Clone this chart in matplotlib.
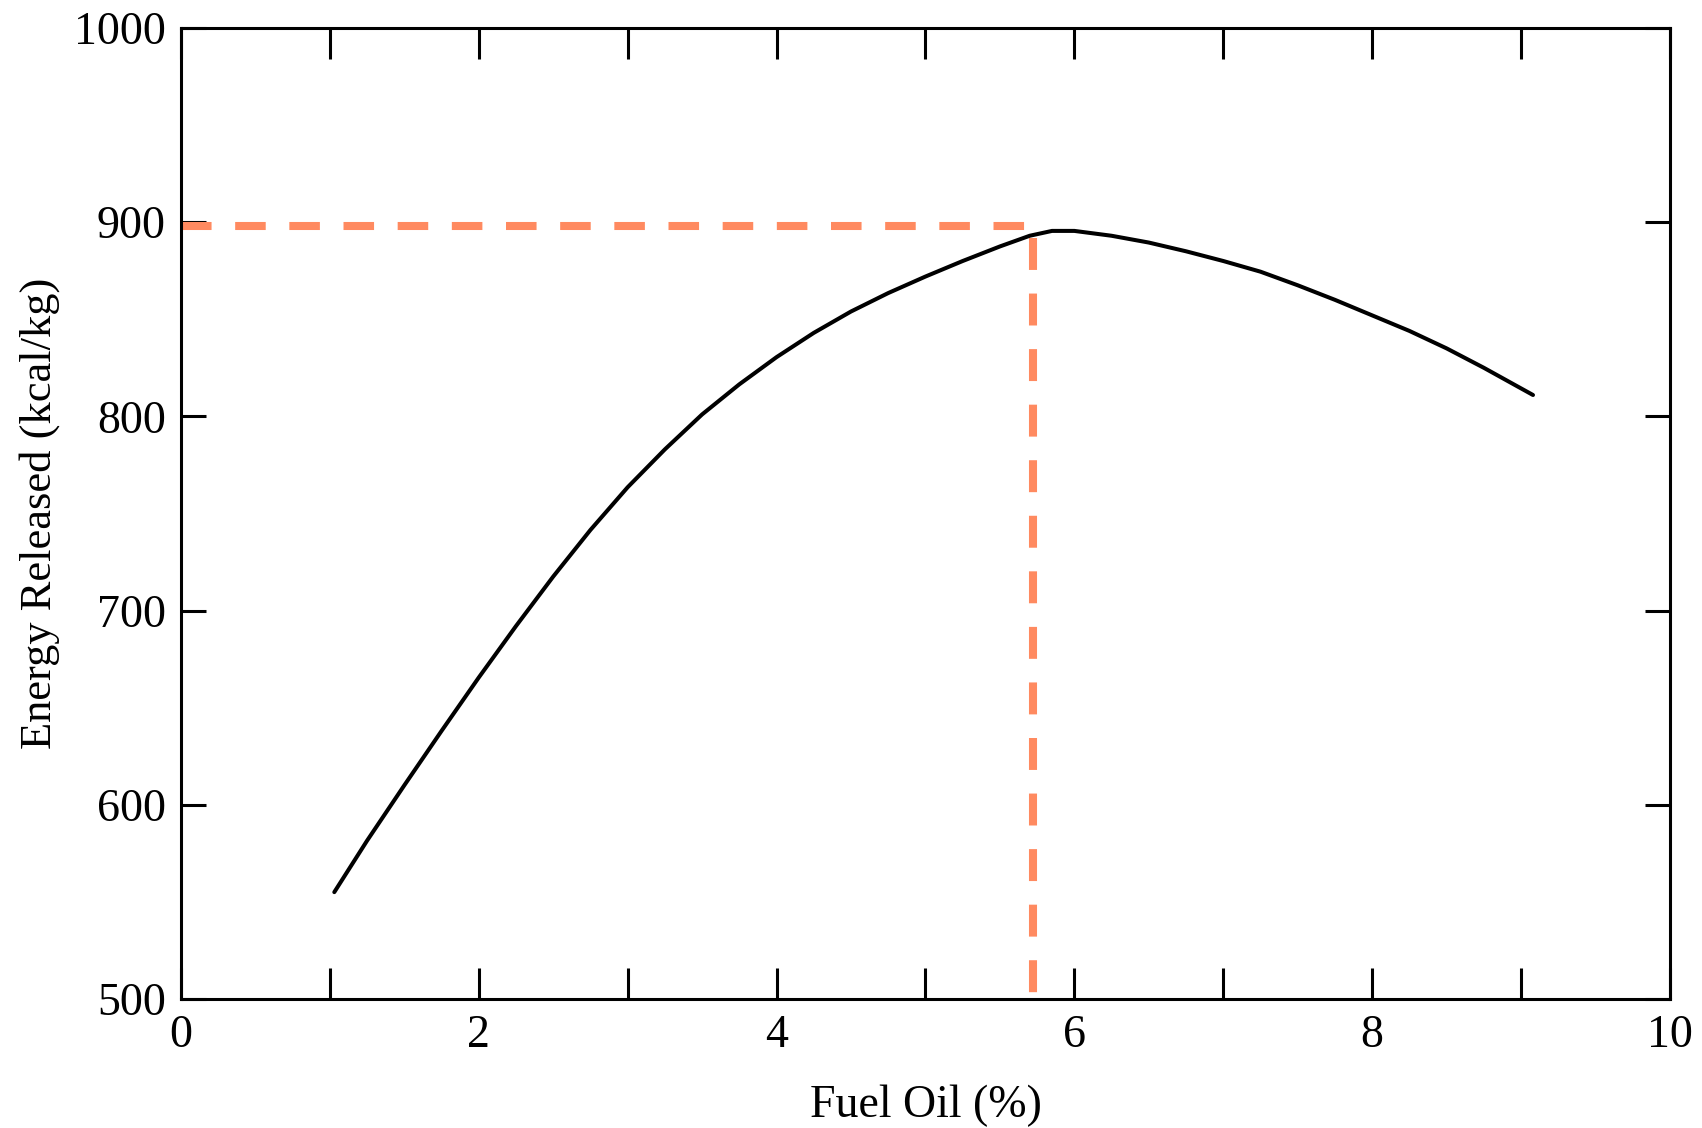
import numpy as np
from matplotlib import pyplot as plt

# curve
fuel_oil = [1.03, 1.25, 1.5, 1.75, 2.0, 2.25, 2.5, 2.75, 3.0, 3.25, 3.5, 3.75, 4.0, 4.25, 4.5, 4.75,
            5.0, 5.25, 5.5, 5.7, 5.85, 6.0, 6.25, 6.5, 6.75, 7.0, 7.25, 7.5, 7.75, 8.0, 8.25, 8.5,
            8.75, 9.08]
energy = [555, 581.5, 610, 638, 665.5, 692, 717.5, 741.5, 763.5, 783, 801, 816.5, 830.5, 843, 854, 863.5,
          872, 880, 887.5, 893, 895.5, 895.5, 893, 889.5, 885, 880, 874.5, 867.5, 860, 852, 844, 835,
          825, 811]

# optimum marked with dashed lines
opt_x = 5.72
opt_y = 898

x_ticks = [0, 2, 4, 6, 8, 10]
y_ticks = [500, 600, 700, 800, 900, 1000]


def draw():
    plt.rcParams['font.family'] = ['Liberation Serif', 'DejaVu Serif']
    plt.rcParams['lines.scale_dashes'] = False

    fig = plt.figure(figsize=(17.02, 11.28), dpi=100)
    ax = fig.add_axes([0.1063, 0.1144, 0.8749, 0.8608])

    ax.plot(fuel_oil, energy, color='black', linewidth=2.9, solid_capstyle='round',
            solid_joinstyle='round', zorder=3)

    orange = '#ff8a60'
    ax.plot([0, opt_x], [opt_y, opt_y], color=orange, linewidth=5.8,
            dashes=(22, 17), dash_capstyle='butt', zorder=2)
    ax.plot([opt_x, opt_x], [opt_y - 6, 495], color=orange, linewidth=5.8,
            dashes=(23, 17), dash_capstyle='butt', zorder=2, clip_on=False)

    ax.set_xlim(0, 10)
    ax.set_ylim(500, 1000)
    ax.set_xticks(x_ticks)
    ax.set_xticks(np.arange(1, 10, 2), minor=True)
    ax.set_yticks(y_ticks)
    ax.set_xticklabels([str(t) for t in x_ticks])
    ax.set_yticklabels([str(t) for t in y_ticks])

    ax.tick_params(axis='x', which='both', direction='in', top=True, length=22, width=2.2,
                   labelsize=33, pad=11)
    ax.tick_params(axis='y', which='both', direction='in', right=True, length=18, width=2.2,
                   labelsize=33, pad=11)
    for s in ax.spines.values():
        s.set_linewidth(2.2)

    ax.set_xlabel('Fuel Oil (%)', fontsize=33, labelpad=20)
    ax.set_ylabel('Energy Released (kcal/kg)', fontsize=32, labelpad=10)

    fig.savefig('out.png', dpi=100)


if __name__ == '__main__':
    draw()
